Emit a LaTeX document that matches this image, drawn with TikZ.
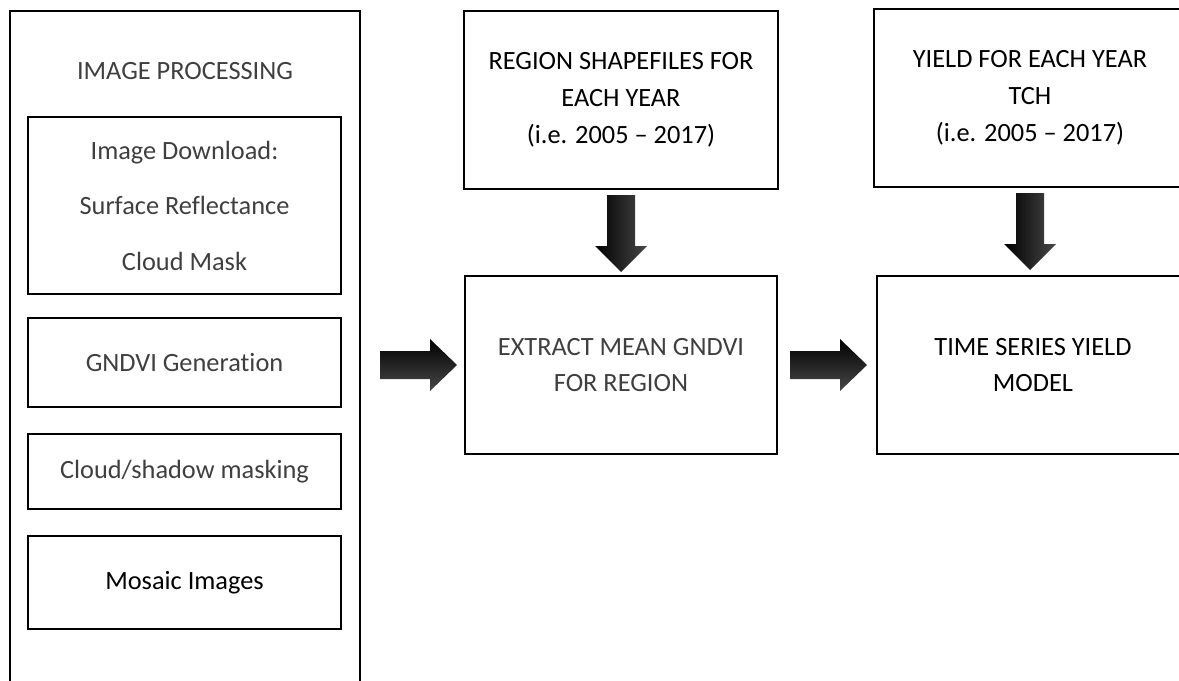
\documentclass[tikz,border=0pt]{standalone}
\usepackage{fontspec}
\setmainfont{Carlito}[Ligatures=NoCommon]
\definecolor{textgray}{HTML}{3F3F3F}

\begin{document}
\begin{tikzpicture}[x=0.02cm, y=-0.02cm,
		box/.style={draw, line width=0.9pt, rectangle, inner sep=0pt, align=center, font=\fontsize{15}{21}\selectfont},
		greytext/.style={text=textgray},
		blockright/.style={top color=black, bottom color=black!72},
		blockdown/.style={left color=black, right color=black!72}]
	\useasboundingbox (0, 0) rectangle (1179, 680);
	\clip (0, 0) rectangle (1179, 680);

	% image processing column
	\draw (185, 351) 	node[box, minimum width=7cm, minimum height=13.6cm, line width=1.1pt] 	(proc) 	{};
	\draw (185, 71) 	node[greytext, font=\fontsize{15}{21}\selectfont] 	(proc_title) 	{IMAGE PROCESSING};
	\draw (184.5, 205.5) 	node[box, greytext, minimum width=6.26cm, minimum height=3.54cm, font=\fontsize{15}{31.6}\selectfont] 	(download) 	{Image Download:\\Surface Reflectance\\Cloud Mask};
	\draw (184.5, 362.5) 	node[box, greytext, minimum width=6.26cm, minimum height=1.78cm] 	(gndvi) 	{GNDVI Generation};
	\draw (184.5, 471.5) 	node[box, greytext, minimum width=6.26cm, minimum height=1.5cm] 	(masking) 	{Cloud/shadow masking};
	\draw (184.5, 582.5) 	node[box, minimum width=6.26cm, minimum height=1.86cm] 	(mosaic) 	{Mosaic Images};

	% inputs and model
	\draw (621, 100) 	node[box, minimum width=6.28cm, minimum height=3.56cm] 	(shapes) 	{REGION SHAPEFILES FOR\\EACH YEAR\\(i.e. 2005 -- 2017)};
	\draw (621, 365) 	node[box, greytext, minimum width=6.24cm, minimum height=3.56cm] 	(extract) 	{EXTRACT MEAN GNDVI\\FOR REGION};
	\draw (1030, 98) 	node[box, minimum width=6.24cm, minimum height=3.56cm] 	(yield) 	{YIELD FOR EACH YEAR\\TCH\\(i.e. 2005 -- 2017)};
	\draw (1033, 365) 	node[box, minimum width=6.24cm, minimum height=3.56cm] 	(model) 	{TIME SERIES YIELD\\MODEL};

	% block arrows
	\shade[blockright] (380, 351) -- (430, 351) -- (430, 339) -- (457, 365) -- (430, 391) -- (430, 379) -- (380, 379) -- cycle;
	\shade[blockright] (790, 351) -- (840, 351) -- (840, 339) -- (867, 365) -- (840, 391) -- (840, 379) -- (790, 379) -- cycle;
	\shade[blockdown] (607, 195) -- (635, 195) -- (635, 246) -- (647, 246) -- (621, 272) -- (595, 246) -- (607, 246) -- cycle;
	\shade[blockdown] (1016, 193) -- (1044, 193) -- (1044, 244) -- (1056, 244) -- (1030, 270) -- (1004, 244) -- (1016, 244) -- cycle;
\end{tikzpicture}
\end{document}
